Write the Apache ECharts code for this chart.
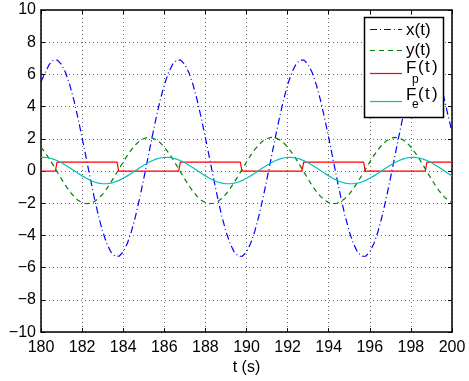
<!DOCTYPE html>
<html><head><meta charset="utf-8">
<script src="https://cdn.jsdelivr.net/npm/echarts@6/dist/echarts.min.js"></script>
<style>html,body{margin:0;padding:0;background:#fff}#c{width:469px;height:381px}</style>
</head><body><div id="c"></div>
<script>
// sample times (s)
const tSamples = [
180,180.2,180.4,180.6,180.8,181,181.2,181.4,181.6,181.8,
182,182.2,182.4,182.6,182.8,183,183.2,183.4,183.6,183.8,
184,184.2,184.4,184.6,184.8,185,185.2,185.4,185.6,185.8,
186,186.2,186.4,186.6,186.8,187,187.2,187.4,187.6,187.8,
188,188.2,188.4,188.6,188.8,189,189.2,189.4,189.6,189.8,
190,190.2,190.4,190.6,190.8,191,191.2,191.4,191.6,191.8,
192,192.2,192.4,192.6,192.8,193,193.2,193.4,193.6,193.8,
194,194.2,194.4,194.6,194.8,195,195.2,195.4,195.6,195.8,
196,196.2,196.4,196.6,196.8,197,197.2,197.4,197.6,197.8,
198,198.2,198.4,198.6,198.8,199,199.2,199.4,199.6,199.8,
200];
// x(t)
const xValues = [
5.55,6.10,6.62,6.89,6.89,6.62,6.10,5.35,4.40,3.29,
2.07,0.80,-0.47,-1.69,-2.80,-3.75,-4.50,-5.02,-5.29,-5.29,
-5.02,-4.50,-3.75,-2.80,-1.69,-0.47,0.80,2.07,3.29,4.40,
5.35,6.10,6.62,6.89,6.89,6.62,6.10,5.35,4.40,3.29,
2.07,0.80,-0.47,-1.69,-2.80,-3.75,-4.50,-5.02,-5.29,-5.29,
-5.02,-4.50,-3.75,-2.80,-1.69,-0.47,0.80,2.07,3.29,4.40,
5.35,6.10,6.62,6.89,6.89,6.62,6.10,5.35,4.40,3.29,
2.07,0.80,-0.47,-1.69,-2.80,-3.75,-4.50,-5.02,-5.29,-5.29,
-5.02,-4.50,-3.75,-2.80,-1.69,-0.47,0.80,2.07,3.29,4.40,
5.35,6.10,6.62,6.89,6.89,6.62,6.10,5.35,4.60,3.50,
2.40];
// y(t)
const yValues = [
1.49,1.15,0.77,0.35,-0.08,-0.50,-0.91,-1.27,-1.57,-1.81,
-1.96,-2.03,-2.00,-1.89,-1.70,-1.43,-1.09,-0.71,-0.29,0.14,
0.56,0.97,1.33,1.63,1.87,2.02,2.09,2.06,1.95,1.76,
1.49,1.15,0.77,0.35,-0.08,-0.50,-0.91,-1.27,-1.57,-1.81,
-1.96,-2.03,-2.00,-1.89,-1.70,-1.43,-1.09,-0.71,-0.29,0.14,
0.56,0.97,1.33,1.63,1.87,2.02,2.09,2.06,1.95,1.76,
1.49,1.15,0.77,0.35,-0.08,-0.50,-0.91,-1.27,-1.57,-1.81,
-1.96,-2.03,-2.00,-1.89,-1.70,-1.43,-1.09,-0.71,-0.29,0.14,
0.56,0.97,1.33,1.63,1.87,2.02,2.09,2.06,1.95,1.76,
1.49,1.15,0.77,0.35,-0.08,-0.50,-0.91,-1.27,-1.57,-1.81,
-1.96];
// Fe(t)
const feValues = [
0.85,0.85,0.81,0.74,0.64,0.51,0.36,0.20,0.03,-0.14,
-0.30,-0.45,-0.58,-0.68,-0.75,-0.79,-0.79,-0.75,-0.68,-0.58,
-0.45,-0.30,-0.14,0.03,0.20,0.36,0.51,0.64,0.74,0.81,
0.85,0.85,0.81,0.74,0.64,0.51,0.36,0.20,0.03,-0.14,
-0.30,-0.45,-0.58,-0.68,-0.75,-0.79,-0.79,-0.75,-0.68,-0.58,
-0.45,-0.30,-0.14,0.03,0.20,0.36,0.51,0.64,0.74,0.81,
0.85,0.85,0.81,0.74,0.64,0.51,0.36,0.20,0.03,-0.14,
-0.30,-0.45,-0.58,-0.68,-0.75,-0.79,-0.79,-0.75,-0.68,-0.58,
-0.45,-0.30,-0.14,0.03,0.20,0.36,0.51,0.64,0.74,0.81,
0.85,0.85,0.81,0.74,0.64,0.51,0.36,0.20,0.03,-0.14,
-0.30];
// Fp(t) switching points
const fpTimes  = [180,180.7,180.78,183.7,183.78,186.7,186.78,189.7,189.78,192.7,192.78,195.7,195.78,198.7,198.78,200];
const fpValues = [0,0,0.55,0.55,0,0,0.55,0.55,0,0,0.55,0.55,0,0,0.55,0.55];

const xTicks = {min:180, max:200, interval:2};
const yTicks = {min:-10, max:10, interval:2};
const seriesNames = ['x(t)','y(t)','Fp(t)','Fe(t)'];

const FONT = '"Liberation Sans", Arial, Helvetica, sans-serif';
const pair = (ts, vs) => vs.map((v, i) => [ts[i], v]);
const minus = v => String(v).replace('-', '\u2212');

const chart = echarts.init(document.getElementById('c'), null, {renderer: 'canvas'});
const axLine = {show: true, onZero: false, lineStyle: {color: '#000', width: 1.5}};
const tick = {show: true, inside: true, length: 4, lineStyle: {color: '#000', width: 1}};
const grid = {show: true, lineStyle: {color: '#6a6a6a', width: 1, type: [1, 3]}};
const lbl = {color: '#000', fontSize: 16, fontFamily: FONT, formatter: minus};

const C_BLUE = '#0000ff', C_GREEN = '#008000', C_RED = '#ff0000', C_CYAN = '#00bfbf';
const DASHDOT = [7, 3, 1, 3], DASH = [5, 4];

const L = {x0: 370, x1: 402, tx: 406};
const txt = (s, x, y, size) => ({
  type: 'text', z: 101, x: x, y: y,
  style: {text: s, x: 0, y: 0, fill: '#000', font: size + 'px ' + FONT,
          align: 'left', verticalAlign: 'middle', textAlign: 'left', textVerticalAlign: 'middle'}
});
const seg = (y, color, dash) => ({
  type: 'line', z: 101,
  shape: {x1: L.x0, y1: y, x2: L.x1, y2: y},
  style: {stroke: color, lineWidth: 1.2, lineDash: dash || null}
});

chart.setOption({
  animation: false,
  backgroundColor: '#fff',
  grid: {left: 41, right: 17, top: 10, bottom: 48, containLabel: false},
  xAxis: [
    Object.assign({type: 'value', position: 'bottom', axisLine: axLine, axisTick: tick,
      axisLabel: Object.assign({margin: 7}, lbl), splitLine: grid,
      name: 't (s)', nameLocation: 'middle', nameGap: 22,
      nameTextStyle: {color: '#000', fontSize: 16, fontFamily: FONT}}, xTicks),
    Object.assign({type: 'value', position: 'top', axisLine: axLine, axisTick: tick,
      axisLabel: {show: false}, splitLine: {show: false}}, xTicks)
  ],
  yAxis: [
    Object.assign({type: 'value', position: 'left', axisLine: axLine, axisTick: tick,
      axisLabel: Object.assign({margin: 5}, lbl), splitLine: grid}, yTicks),
    Object.assign({type: 'value', position: 'right', axisLine: axLine, axisTick: tick,
      axisLabel: {show: false}, splitLine: {show: false}}, yTicks)
  ],
  series: [
    {name: seriesNames[0], type: 'line', data: pair(tSamples, xValues), showSymbol: false, symbol: 'none',
     lineStyle: {color: C_BLUE, width: 1.2, type: DASHDOT}},
    {name: seriesNames[1], type: 'line', data: pair(tSamples, yValues), showSymbol: false, symbol: 'none',
     lineStyle: {color: C_GREEN, width: 1.2, type: DASH}},
    {name: seriesNames[2], type: 'line', data: pair(fpTimes, fpValues), showSymbol: false, symbol: 'none',
     lineStyle: {color: C_RED, width: 1.2}},
    {name: seriesNames[3], type: 'line', data: pair(tSamples, feValues), showSymbol: false, symbol: 'none',
     lineStyle: {color: C_CYAN, width: 1.2}}
  ],
  graphic: [
    {type: 'rect', z: 100, shape: {x: 364.5, y: 17.5, width: 79, height: 100},
     style: {fill: '#fff', stroke: '#000', lineWidth: 1.5}},
    seg(29.5, C_BLUE, DASHDOT),
    seg(50.5, C_GREEN, DASH),
    seg(73.5, C_RED),
    seg(101.5, C_CYAN),
    txt('x(t)', L.tx, 30, 17),
    txt('y(t)', L.tx, 50, 17),
    txt('F', L.tx, 68, 17),
    txt('p', 412, 80, 12),
    txt('(', 418, 67.5, 17),
    txt('t', 425, 67.5, 17),
    txt(')', 432, 67.5, 17),
    txt('F', L.tx, 95, 17),
    txt('e', 412, 105, 12),
    txt('(', 418, 94.5, 17),
    txt('t', 425, 94.5, 17),
    txt(')', 432, 94.5, 17)
  ]
});
</script></body></html>
